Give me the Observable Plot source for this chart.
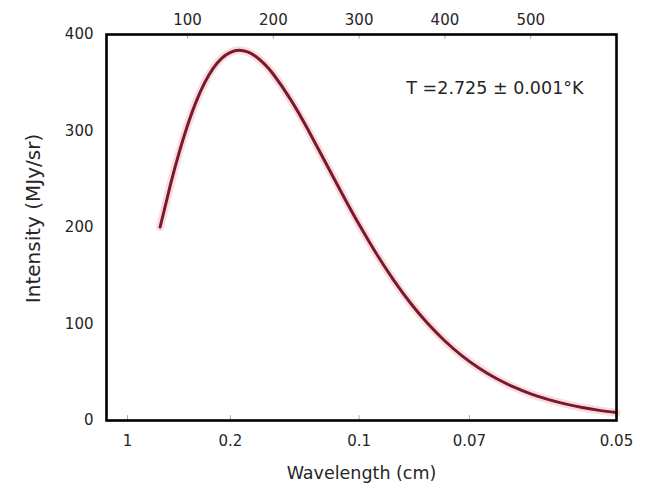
<!DOCTYPE html>
<html>
<head>
<meta charset="utf-8">
<script src="https://cdn.jsdelivr.net/npm/d3@7"></script>
<script src="https://cdn.jsdelivr.net/npm/@observablehq/plot@0.6"></script>
<style>
  html, body { margin: 0; padding: 0; background: #fff; }
  #chart svg { display: block; }
</style>
</head>
<body>
<div id="chart"></div>
<script>
// Frequency (GHz) and intensity (MJy/sr)
const freqGHz = [68, 80, 90, 100, 110, 120, 130, 140, 150, 160, 170, 180, 190, 200,
  220, 240, 260, 280, 300, 320, 340, 360, 380, 400, 420, 440, 460, 480, 500,
  520, 540, 560, 580, 600];
const intensity = [200.5, 244.1, 277.0, 305.9, 330.4, 350.1, 365.2, 375.6, 381.6, 383.6,
  381.9, 376.9, 369.1, 358.8, 332.8, 302.0, 268.7, 235.3, 203.0, 173.0, 145.7, 121.5,
  100.5, 82.4, 67.0, 54.2, 43.5, 34.8, 27.6, 21.9, 17.2, 13.5, 10.5, 8.2];

// Axis ticks
const wavelengthTicksCm = [1, 0.2, 0.1, 0.07, 0.05];   // bottom axis
const freqTicksGHz = [100, 200, 300, 400, 500];        // top axis
const intensityTicks = [0, 100, 200, 300, 400];        // left axis

const annotation = "T =2.725 ± 0.001°K";
const xLabel = "Wavelength (cm)";
const yLabel = "Intensity (MJy/sr)";

const data = freqGHz.map((f, i) => ({f, v: intensity[i]}));
const font = "DejaVu Sans, Verdana, sans-serif";
const ink = "#262626";

const chart = Plot.plot({
  width: 648,
  height: 489,
  marginLeft: 106,
  marginRight: 32,
  marginTop: 34,
  marginBottom: 69,
  style: {fontFamily: font, fontSize: "15px", color: ink, background: "#fff", overflow: "visible"},
  x: {type: "linear", domain: [5.5, 600]},
  y: {type: "linear", domain: [0, 400]},
  marks: [
    Plot.line(data, {x: "f", y: "v", stroke: "#f5b8c2", strokeWidth: 8, strokeOpacity: 0.5, curve: "natural"}),
    Plot.line(data, {x: "f", y: "v", stroke: "#761a2c", strokeWidth: 3, curve: "natural"}),
    Plot.ruleX(wavelengthTicksCm.slice(0, 4).map(l => 30 / l), {y1: 0, y2: 5, stroke: "#aaa", strokeWidth: 1}),
    Plot.ruleX(freqTicksGHz, {y1: 395, y2: 400, stroke: "#aaa", strokeWidth: 1}),
    Plot.axisX(wavelengthTicksCm.map(l => 30 / l), {
      anchor: "bottom", tickSize: 0, tickPadding: 15, label: null,
      tickFormat: d => String(+(30 / d).toFixed(2)), fill: ink
    }),
    Plot.axisX(freqTicksGHz, {
      anchor: "top", tickSize: 0, tickPadding: 10, label: null, fill: ink
    }),
    Plot.axisY(intensityTicks, {
      anchor: "left", tickSize: 0, tickPadding: 13, label: null, fill: ink
    }),
    Plot.frame({stroke: "#000", strokeWidth: 2.6}),
    Plot.text([xLabel], {frameAnchor: "bottom", dy: 53, fontSize: 17.5, fill: ink, lineAnchor: "middle"}),
    Plot.text([yLabel], {frameAnchor: "left", textAnchor: "middle", rotate: -90, dx: -73, dy: -9, fontSize: 20, fill: ink, lineAnchor: "middle"}),
    Plot.text([annotation], {frameAnchor: "top-right", dx: -33, dy: 54, textAnchor: "end", lineAnchor: "middle", fontSize: 17.5, fill: ink})
  ]
});
document.getElementById("chart").appendChild(chart);
</script>
</body>
</html>
